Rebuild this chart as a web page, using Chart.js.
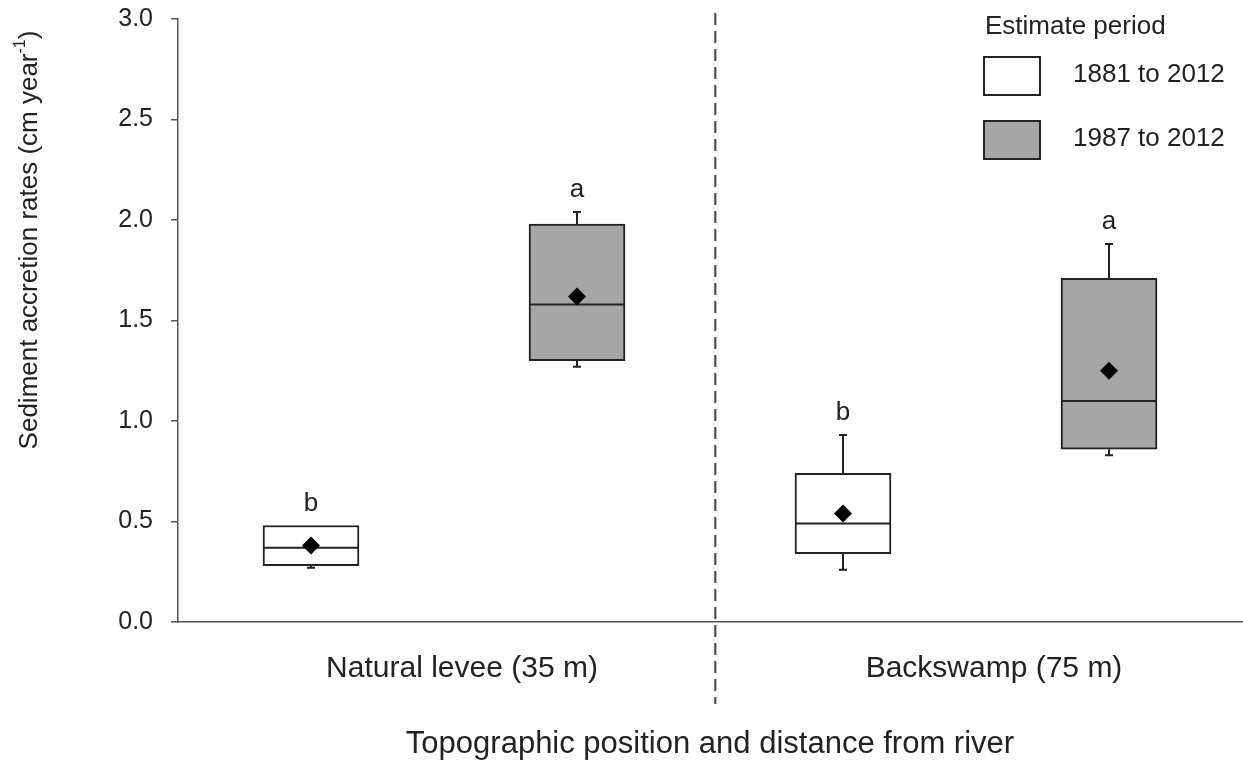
<!DOCTYPE html>
<html>
<head>
<meta charset="utf-8">
<script src="https://cdn.jsdelivr.net/npm/chart.js@4.4.0/dist/chart.umd.min.js"></script>
<style>
  html, body { margin: 0; padding: 0; background: #fff; }
  canvas { display: block; }
</style>
</head>
<body>
<canvas id="accretionChart" width="1243" height="764"></canvas>
<script>
const groups = ['Natural levee (35 m)', 'Backswamp (75 m)'];
const periods = ['1881 to 2012', '1987 to 2012'];
const yTicks = [0, 0.5, 1.0, 1.5, 2.0, 2.5, 3.0];

// 1881 to 2012
const min1881 = [0.27, 0.26];
const q1_1881 = [0.28, 0.34];
const median1881 = [0.37, 0.49];
const q3_1881 = [0.48, 0.74];
const max1881 = [0.48, 0.93];
const mean1881 = [0.38, 0.54];
const letters1881 = ['b', 'b'];

// 1987 to 2012
const min1987 = [1.27, 0.83];
const q1_1987 = [1.30, 0.86];
const median1987 = [1.58, 1.10];
const q3_1987 = [1.98, 1.71];
const max1987 = [2.04, 1.88];
const mean1987 = [1.62, 1.25];
const letters1987 = ['a', 'a'];

const boxColors = ['#ffffff', '#a6a6a6'];
const lineColor = '#222';
const textColor = '#222';
const fontFamily = '"Liberation Sans", Arial, sans-serif';

// divider between the two topographic positions (x axis units)
const dividerAt = 2.02;

const stats = [
  { min: min1881, q1: q1_1881, median: median1881, q3: q3_1881, max: max1881, mean: mean1881, letters: letters1881 },
  { min: min1987, q1: q1_1987, median: median1987, q3: q3_1987, max: max1987, mean: mean1987, letters: letters1987 }
];

// slot on the x axis for group i, period s
function slot(i, s) { return i * 2 + s + 0.5; }

const barSets = stats.map((st, s) => ({
  type: 'bar',
  label: periods[s],
  data: groups.map((g, i) => ({ x: slot(i, s), y: [st.q1[i], st.q3[i]] })),
  backgroundColor: boxColors[s],
  borderColor: lineColor,
  borderWidth: 2,
  borderSkipped: false,
  barThickness: 96,
  grouped: false,
  order: 1
}));

const meanSet = {
  type: 'scatter',
  label: 'Mean',
  data: stats.flatMap((st, s) => groups.map((g, i) => ({ x: slot(i, s), y: st.mean[i] }))),
  pointStyle: 'rectRot',
  pointRadius: 9,
  pointHoverRadius: 9,
  backgroundColor: '#000',
  borderColor: '#000',
  borderWidth: 0,
  order: 0
};

// medians, whiskers and letters on top of each box
const boxExtras = {
  id: 'boxExtras',
  afterDatasetDraw(chart, args) {
    const s = args.index;
    if (s >= stats.length) return;
    const st = stats[s];
    const { ctx, scales: { x, y } } = chart;
    const meta = chart.getDatasetMeta(s);
    ctx.save();
    ctx.strokeStyle = lineColor;
    ctx.lineWidth = 2;
    groups.forEach((g, i) => {
      const cx = x.getPixelForValue(slot(i, s));
      const half = meta.data[i].width / 2;
      const pMed = y.getPixelForValue(st.median[i]);
      const pQ1 = y.getPixelForValue(st.q1[i]);
      const pQ3 = y.getPixelForValue(st.q3[i]);
      const pMin = y.getPixelForValue(st.min[i]);
      const pMax = y.getPixelForValue(st.max[i]);
      ctx.beginPath();
      ctx.moveTo(cx - half, pMed);
      ctx.lineTo(cx + half, pMed);
      if (st.max[i] > st.q3[i]) {
        ctx.moveTo(cx, pQ3);
        ctx.lineTo(cx, pMax);
        ctx.moveTo(cx - 4, pMax);
        ctx.lineTo(cx + 4, pMax);
      }
      if (st.min[i] < st.q1[i]) {
        ctx.moveTo(cx, pQ1);
        ctx.lineTo(cx, pMin);
        ctx.moveTo(cx - 4, pMin);
        ctx.lineTo(cx + 4, pMin);
      }
      ctx.stroke();

      ctx.fillStyle = textColor;
      ctx.font = '26px ' + fontFamily;
      ctx.textAlign = 'center';
      ctx.textBaseline = 'alphabetic';
      ctx.fillText(st.letters[i], cx, pMax - 15);
    });
    ctx.restore();
  }
};

// dashed divider, rotated y title with superscript and the boxed legend
const decorations = {
  id: 'decorations',
  afterDraw(chart) {
    const { ctx, scales: { x } } = chart;
    ctx.save();

    const dx = x.getPixelForValue(dividerAt);
    ctx.strokeStyle = '#444';
    ctx.lineWidth = 2;
    ctx.setLineDash([12, 6]);
    ctx.beginPath();
    ctx.moveTo(dx, 13);
    ctx.lineTo(dx, 704);
    ctx.stroke();
    ctx.setLineDash([]);

    // y axis title
    ctx.fillStyle = textColor;
    ctx.translate(30, 240);
    ctx.rotate(-Math.PI / 2);
    ctx.textBaseline = 'middle';
    ctx.textAlign = 'left';
    const main = 'Sediment accretion rates (cm year';
    const sup = '-1';
    const close = ')';
    ctx.font = '26px ' + fontFamily;
    const wMain = ctx.measureText(main).width;
    const wClose = ctx.measureText(close).width;
    ctx.font = '16px ' + fontFamily;
    const wSup = ctx.measureText(sup).width;
    let start = -(wMain + wSup + wClose) / 2;
    ctx.font = '26px ' + fontFamily;
    ctx.fillText(main, start, 0);
    ctx.font = '16px ' + fontFamily;
    ctx.fillText(sup, start + wMain, -9);
    ctx.font = '26px ' + fontFamily;
    ctx.fillText(close, start + wMain + wSup, 0);
    ctx.setTransform(1, 0, 0, 1, 0, 0);

    // legend
    ctx.font = '26px ' + fontFamily;
    ctx.textBaseline = 'middle';
    ctx.fillText('Estimate period', 985, 27);
    periods.forEach((p, s) => {
      const top = 57 + s * 64;
      ctx.fillStyle = boxColors[s];
      ctx.fillRect(984, top, 56, 38);
      ctx.strokeStyle = lineColor;
      ctx.lineWidth = 2;
      ctx.strokeRect(984, top, 56, 38);
      ctx.fillStyle = textColor;
      ctx.fillText(p, 1073, top + 18);
    });
    ctx.restore();
  }
};

const ctx = document.getElementById('accretionChart').getContext('2d');
const accretionChart = new Chart(ctx, {
  type: 'bar',
  data: {
    datasets: [...barSets, meanSet]
  },
  options: {
    responsive: false,
    devicePixelRatio: 1,
    animation: false,
    events: [],
    layout: { autoPadding: false, padding: { top: 19, right: 1, bottom: 0, left: 0 } },
    plugins: {
      legend: { display: false },
      tooltip: { enabled: false }
    },
    scales: {
      x: {
        type: 'linear',
        min: 0,
        max: 4,
        offset: false,
        grid: { display: false, offset: false },
        border: { display: true, color: '#555', width: 1.5 },
        afterBuildTicks: (scale) => {
          scale.ticks = groups.map((g, i) => ({ value: i * 2 + 1 }));
        },
        afterFit: (scale) => {
          scale.height = 142;
          scale.paddingLeft = 0;
          scale.paddingRight = 0;
        },
        ticks: {
          color: textColor,
          font: { family: fontFamily, size: 30 },
          padding: 21,
          labelOffset: 18,
          maxRotation: 0,
          autoSkip: false,
          callback: (value, index) => groups[index]
        },
        title: {
          display: true,
          text: 'Topographic position and distance from river',
          color: textColor,
          font: { family: fontFamily, size: 31 },
          padding: { top: 0, bottom: 1 }
        }
      },
      y: {
        min: 0,
        max: 3,
        grid: { display: true, drawOnChartArea: false, tickLength: 7, color: '#555', lineWidth: 1.5 },
        border: { display: true, color: '#555', width: 1.5 },
        afterBuildTicks: (scale) => {
          scale.ticks = yTicks.map(v => ({ value: v }));
        },
        afterFit: (scale) => {
          scale.width = 178;
          scale.paddingTop = 0;
          scale.paddingBottom = 0;
        },
        ticks: {
          color: textColor,
          font: { family: fontFamily, size: 25 },
          padding: 18,
          callback: (value) => Number(value).toFixed(1)
        }
      }
    }
  },
  plugins: [boxExtras, decorations]
});
</script>
</body>
</html>
